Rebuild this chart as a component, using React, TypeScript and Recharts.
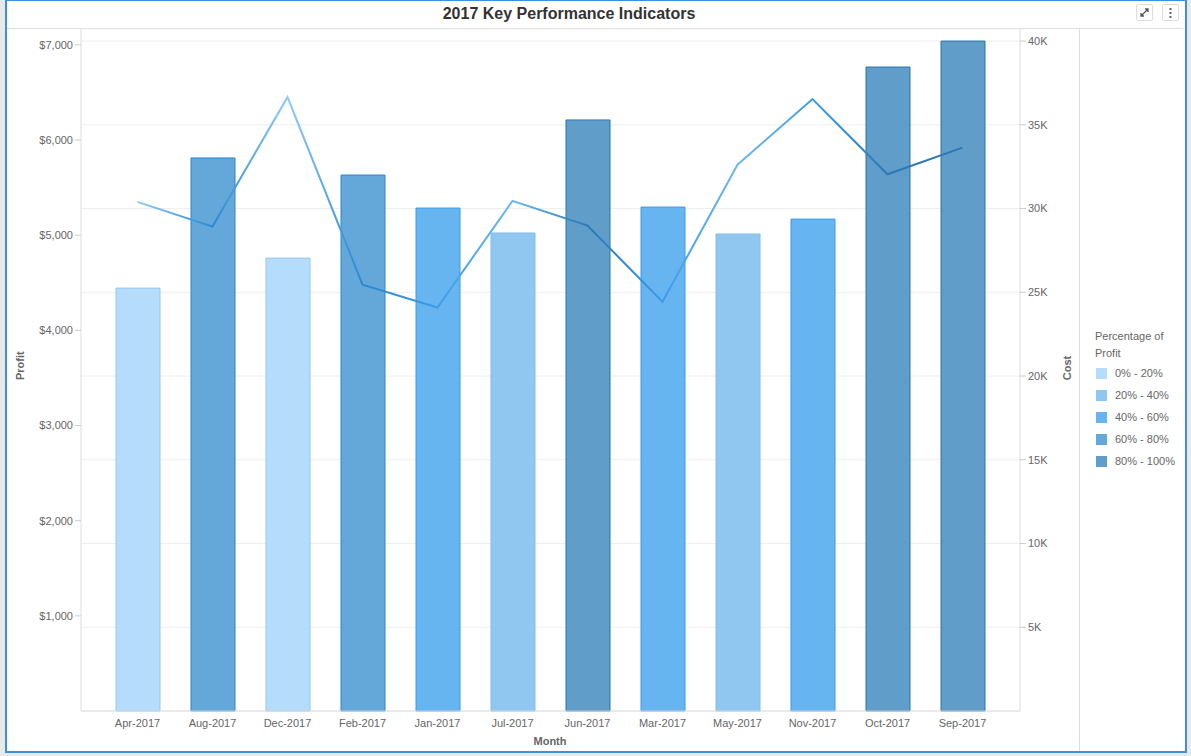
import React from 'react';
import { ComposedChart, Bar, Line, Cell, XAxis, YAxis, CartesianGrid } from 'recharts';

const months = ['Apr-2017', 'Aug-2017', 'Dec-2017', 'Feb-2017', 'Jan-2017', 'Jul-2017', 'Jun-2017', 'Mar-2017', 'May-2017', 'Nov-2017', 'Oct-2017', 'Sep-2017'];
const cost = [25250, 33020, 27040, 32000, 30030, 28540, 35290, 30090, 28480, 29370, 38450, 40000];
const profit = [5350, 5090, 6450, 4480, 4240, 5360, 5100, 4300, 5740, 6430, 5640, 5920];
// index into the legend buckets below
const bucket = [0, 3, 0, 3, 2, 1, 4, 2, 1, 2, 4, 4];

const bucketLabels = ['0% - 20%', '20% - 40%', '40% - 60%', '60% - 80%', '80% - 100%'];
const bucketFill = ['#b5dcfa', '#90c7f1', '#66b4f0', '#64a8da', '#609ec9'];
const bucketStroke = ['#90c9f5', '#80bdec', '#3a9ae6', '#2a86cc', '#2b75aa'];
const lineColor = ['#90caf5', '#6cb8ee', '#3d9ce6', '#2a88d0', '#2a78b5'];

const profitTicks = [1000, 2000, 3000, 4000, 5000, 6000, 7000];
const costTicks = [5000, 10000, 15000, 20000, 25000, 30000, 35000, 40000];

const data = months.map((m, i) => ({ month: m, cost: cost[i], profit: profit[i], bucket: bucket[i] }));

const font = '"Liberation Sans", Arial, sans-serif';
const tickStyle = { fill: '#666', fontSize: 11, fontFamily: font };

export default function App() {
  return (
    <div style={{ position: 'absolute', left: 0, top: 0, width: 1191, height: 756, background: '#e9e9e9', fontFamily: font }}>
      <div style={{ position: 'absolute', left: 5, top: 0, width: 1178, height: 750, background: '#fff', border: '2px solid #3d8fe3', borderTopWidth: 1 }} />
      <div style={{ position: 'absolute', left: 7, top: 28, width: 1176, height: 1, background: '#ddd' }} />
      <div style={{ position: 'absolute', left: 1079, top: 29, width: 1, height: 722, background: '#ddd' }} />
      <div style={{ position: 'absolute', left: 300, top: 5, width: 538, textAlign: 'center', fontSize: 16, fontWeight: 'bold', color: '#333' }}>
        2017 Key Performance Indicators
      </div>
      <div style={{ position: 'absolute', left: 1136, top: 4, width: 15, height: 15, border: '1px solid #ddd', borderRadius: 2 }}>
        <svg width="15" height="15">
          <path d="M4 11 L11 4 M8 4 L11 4 L11 7 M4 8 L4 11 L7 11" stroke="#555" strokeWidth="1.3" fill="none" />
        </svg>
      </div>
      <div style={{ position: 'absolute', left: 1162, top: 4, width: 15, height: 15, border: '1px solid #ddd', borderRadius: 2 }}>
        <svg width="15" height="15">
          <rect x="6.5" y="3" width="2" height="2" fill="#666" />
          <rect x="6.5" y="7" width="2" height="2" fill="#666" />
          <rect x="6.5" y="11" width="2" height="2" fill="#666" />
        </svg>
      </div>

      <div style={{ position: 'absolute', left: 0, top: 0 }}>
        <ComposedChart width={1191} height={756} data={data} margin={{ top: 29, left: 21, right: 121, bottom: 15 }}>
          <defs>
            <linearGradient id="profitLine" x1="0" y1="0" x2="1" y2="0">
              {bucket.map((b, i) => (
                <stop key={i} offset={i / (bucket.length - 1)} stopColor={lineColor[b]} />
              ))}
            </linearGradient>
          </defs>
          <CartesianGrid yAxisId="cost" vertical={false} stroke="#eeeeee" />
          <XAxis
            dataKey="month"
            height={30}
            padding={{ left: 19, right: 20 }}
            tick={tickStyle}
            tickLine={false}
            axisLine={{ stroke: '#ddd' }}
          />
          <YAxis
            yAxisId="profit"
            orientation="left"
            width={60}
            domain={[0, 7166]}
            ticks={profitTicks}
            tickFormatter={(v: number) => '$' + v.toLocaleString('en-US')}
            tick={tickStyle}
            tickSize={6}
            tickLine={{ stroke: '#ccc' }}
            axisLine={{ stroke: '#ddd' }}
          />
          <YAxis
            yAxisId="cost"
            orientation="right"
            width={50}
            domain={[0, 40720]}
            ticks={costTicks}
            tickFormatter={(v: number) => v / 1000 + 'K'}
            tick={tickStyle}
            tickSize={6}
            tickLine={{ stroke: '#ccc' }}
            axisLine={{ stroke: '#ddd' }}
          />
          <Bar yAxisId="cost" dataKey="cost" barSize={44} isAnimationActive={false}>
            {data.map((d, i) => (
              <Cell key={i} fill={bucketFill[d.bucket]} stroke={bucketStroke[d.bucket]} strokeWidth={1} />
            ))}
          </Bar>
          <Line
            yAxisId="profit"
            dataKey="profit"
            type="linear"
            stroke="url(#profitLine)"
            strokeWidth={2}
            dot={false}
            activeDot={false}
            isAnimationActive={false}
          />
        </ComposedChart>
      </div>

      <div style={{ position: 'absolute', left: 6, top: 360, width: 28, textAlign: 'center', fontSize: 11, fontWeight: 'bold', color: '#666', transform: 'rotate(-90deg)' }}>
        Profit
      </div>
      <div style={{ position: 'absolute', left: 1052, top: 362, width: 30, textAlign: 'center', fontSize: 11, fontWeight: 'bold', color: '#666', transform: 'rotate(-90deg)' }}>
        Cost
      </div>
      <div style={{ position: 'absolute', left: 520, top: 735, width: 60, textAlign: 'center', fontSize: 11, fontWeight: 'bold', color: '#666' }}>
        Month
      </div>

      <div style={{ position: 'absolute', left: 1095, top: 328, fontSize: 11, color: '#666', lineHeight: '17px' }}>
        <div>Percentage of</div>
        <div>Profit</div>
        {bucketLabels.map((l, i) => (
          <div key={l} style={{ display: 'flex', alignItems: 'center', height: 22, marginTop: i === 0 ? 0 : 0 }}>
            <span style={{ width: 11, height: 11, background: bucketFill[i], marginRight: 8, marginLeft: 1 }} />
            <span>{l}</span>
          </div>
        ))}
      </div>
    </div>
  );
}
